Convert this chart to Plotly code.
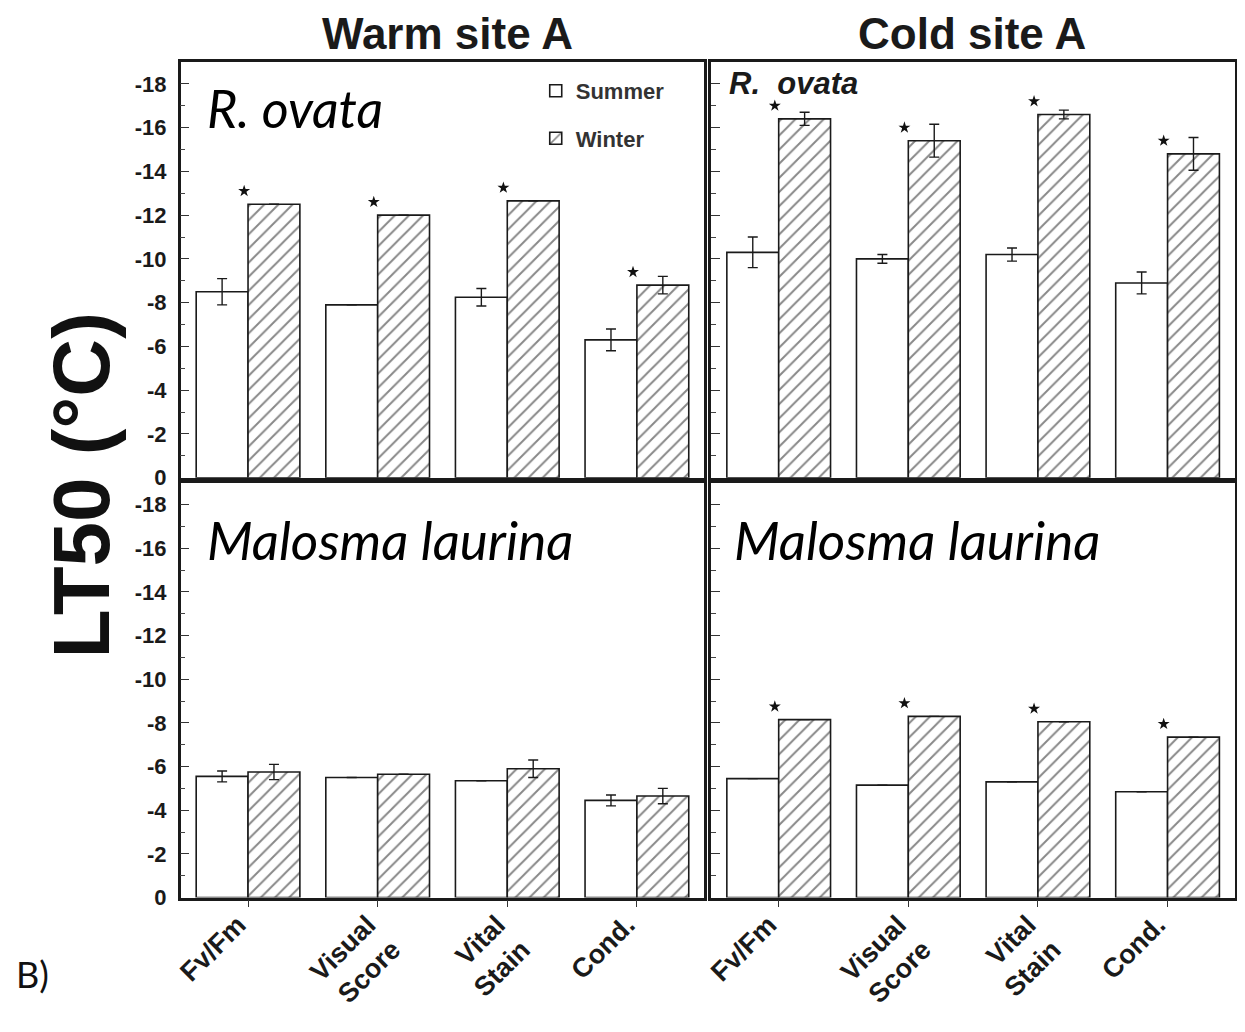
import plotly.graph_objects as go

# ---------------- data ----------------
methods = ["Fv/Fm", "Visual<br>Score", "Vital<br>Stain", "Cond."]
method_pos = [0, 1, 2, 3]
site_titles = ["Warm site A", "Cold site A"]
seasons = ["Summer", "Winter"]

y_tick_vals = [0, -2, -4, -6, -8, -10, -12, -14, -16, -18]
y_tick_text = ["0", "-2", "-4", "-6", "-8", "-10", "-12", "-14", "-16", "-18"]

# R. ovata, warm site
warm_ovata_summer = [-8.5, -7.9, -8.25, -6.3]
warm_ovata_summer_err = [0.6, 0.0, 0.4, 0.5]
warm_ovata_winter = [-12.5, -12.0, -12.65, -8.8]
warm_ovata_winter_err = [0.0, 0.0, 0.0, 0.4]
warm_ovata_sig = [True, True, True, True]

# R. ovata, cold site
cold_ovata_summer = [-10.3, -10.0, -10.2, -8.9]
cold_ovata_summer_err = [0.7, 0.2, 0.3, 0.5]
cold_ovata_winter = [-16.4, -15.4, -16.6, -14.8]
cold_ovata_winter_err = [0.3, 0.75, 0.2, 0.75]
cold_ovata_sig = [True, True, True, True]

# Malosma laurina, warm site
warm_malosma_summer = [-5.55, -5.5, -5.35, -4.45]
warm_malosma_summer_err = [0.25, 0.0, 0.0, 0.25]
warm_malosma_winter = [-5.75, -5.65, -5.9, -4.65]
warm_malosma_winter_err = [0.35, 0.0, 0.4, 0.35]
warm_malosma_sig = [False, False, False, False]

# Malosma laurina, cold site
cold_malosma_summer = [-5.45, -5.15, -5.3, -4.85]
cold_malosma_summer_err = [0.0, 0.0, 0.0, 0.0]
cold_malosma_winter = [-8.15, -8.3, -8.05, -7.35]
cold_malosma_winter_err = [0.0, 0.0, 0.0, 0.0]
cold_malosma_sig = [True, True, True, True]

panels = [
    ("", warm_ovata_summer, warm_ovata_summer_err, warm_ovata_winter, warm_ovata_winter_err, warm_ovata_sig),
    ("2", cold_ovata_summer, cold_ovata_summer_err, cold_ovata_winter, cold_ovata_winter_err, cold_ovata_sig),
    ("3", warm_malosma_summer, warm_malosma_summer_err, warm_malosma_winter, warm_malosma_winter_err, warm_malosma_sig),
    ("4", cold_malosma_summer, cold_malosma_summer_err, cold_malosma_winter, cold_malosma_winter_err, cold_malosma_sig),
]

# ---------------- style ----------------
PAGE_MARGIN = 8          # default body margin of the html page
W, H = 1245 - 2 * PAGE_MARGIN, 1032 - 2 * PAGE_MARGIN
# empirical calibration between picture pixels and page pixels
SX, LX = 0.996, 5.0
SY = 0.990
AXIS_DROP = 9            # how far the bottom axis moves with the calibration
FONT = "Liberation Sans, Arial, sans-serif"
HUMANIST = "Lato, Open Sans, sans-serif"
STAR_OFFSET = 0.6
STAR_DX = -0.03
INK = "#1a1a1a"

def page_x(p):
    return min(1.0, max(0.0, (p - PAGE_MARGIN) / W))

def page_y(p):
    return min(1.0, max(0.0, 1 - (p - PAGE_MARGIN) / H))

def px_x(r):
    return page_x(r / SX - LX)

def px_y(r):
    return page_y(r / SY)

x_dom_left = [px_x(180), px_x(705)]
x_dom_right = [px_x(712), px_x(1237)]
y_dom_top = [px_y(479), px_y(62)]
y_dom_bottom = [px_y(900), px_y(484)]

fig = go.Figure()

for idx, (sfx, s, se, w, we, sig) in enumerate(panels):
    xa = "x" + sfx
    ya = "y" + sfx
    first = idx == 0
    fig.add_trace(go.Bar(
        x=method_pos, y=s, name=seasons[0], xaxis=xa, yaxis=ya,
        marker=dict(color="white", line=dict(color=INK, width=1.6)),
        error_y=dict(type="data", array=se, visible=True, color=INK,
                     thickness=1.4, width=5),
        showlegend=first, legendgroup="summer", offsetgroup="s",
    ))
    fig.add_trace(go.Bar(
        x=method_pos, y=w, name=seasons[1], xaxis=xa, yaxis=ya,
        marker=dict(color="white", line=dict(color=INK, width=1.6),
                    pattern=dict(shape="/", fgcolor="#111", bgcolor="white",
                                 size=10, solidity=0.2)),
        error_y=dict(type="data", array=we, visible=True, color=INK,
                     thickness=1.4, width=5),
        showlegend=first, legendgroup="winter", offsetgroup="w",
    ))
    sx = [p + STAR_DX for p, g in zip(method_pos, sig) if g]
    sy = [v - STAR_OFFSET for v, g in zip(w, sig) if g]
    if sx:
        fig.add_trace(go.Scatter(
            x=sx, y=sy, mode="markers", xaxis=xa, yaxis=ya,
            marker=dict(symbol="star", size=9, color="#111"),
            showlegend=False, hoverinfo="skip",
        ))

axis_common = dict(showline=True, linecolor=INK, linewidth=2.5, mirror=True,
                   showgrid=False, zeroline=False)

def xaxis(domain, anchor, labels):
    return dict(axis_common, domain=domain, anchor=anchor, range=[-0.52, 3.52],
                tickvals=method_pos, ticktext=methods if labels else [""] * 4,
                ticks="outside" if labels else "", ticklen=7, tickwidth=1.3, tickcolor="#333",
                tickangle=-45 if labels else 0,
                ticklabelshift=-10, ticklabelstandoff=-AXIS_DROP,
                tickfont=dict(family=FONT, size=27, color=INK, weight="bold"))

def yaxis(domain, anchor, labels):
    return dict(axis_common, domain=domain, anchor=anchor, range=[0, -19],
                tickvals=y_tick_vals, ticktext=y_tick_text if labels else [""] * 10,
                ticks="inside", ticklen=9, tickwidth=1.3, tickcolor="#333",
                ticklabelstandoff=7,
                minor=dict(dtick=1, tick0=0, ticks="inside", ticklen=5, tickwidth=1, tickcolor="#444"),
                tickfont=dict(family=FONT, size=22, color=INK, weight="bold"))

fig.update_layout(
    width=W, height=H,
    margin=dict(l=0, r=0, t=0, b=0),
    paper_bgcolor="white", plot_bgcolor="white",
    barmode="group", bargap=0.2, bargroupgap=0.0,
    xaxis=xaxis(x_dom_left, "y", False),
    yaxis=yaxis(y_dom_top, "x", True),
    xaxis2=xaxis(x_dom_right, "y2", False),
    yaxis2=yaxis(y_dom_top, "x2", False),
    xaxis3=xaxis(x_dom_left, "y3", True),
    yaxis3=yaxis(y_dom_bottom, "x3", True),
    xaxis4=xaxis(x_dom_right, "y4", True),
    yaxis4=yaxis(y_dom_bottom, "x4", False),
    legend=dict(x=px_x(536), y=px_y(70), xanchor="left", yanchor="top",
                bgcolor="rgba(0,0,0,0)", tracegroupgap=16, traceorder="grouped",
                font=dict(family=FONT, size=22, color="#333", weight="bold"),
                itemwidth=30),
    showlegend=True,
)

def ann(text, x, y, font, xanchor="center", yanchor="middle", angle=0):
    return dict(text=text, x=x, y=y, xref="paper", yref="paper",
                xanchor=xanchor, yanchor=yanchor, showarrow=False,
                textangle=angle, font=font)

annotations = [
    ann(site_titles[0], px_x(448), px_y(33), dict(family=FONT, size=44, color=INK, weight="bold")),
    ann(site_titles[1], px_x(973), px_y(33), dict(family=FONT, size=44, color=INK, weight="bold")),
    ann("LT50 (°C)", page_x(76), px_y(487), dict(family=FONT, size=80, color="#111", weight="bold"),
        angle=-90),
    ann("B)", page_x(8), px_y(977), dict(family=HUMANIST, size=36, color="#111"), xanchor="left"),
    ann("R. ovata", px_x(204), px_y(108), dict(family=HUMANIST, size=52, color="#000", style="italic"), xanchor="left"),
    ann("R.  ovata", px_x(728), px_y(84), dict(family=FONT, size=31, color=INK, style="italic", weight="bold"), xanchor="left"),
    ann("Malosma laurina", px_x(204), px_y(541), dict(family=HUMANIST, size=53, color="#000", style="italic"), xanchor="left"),
    ann("Malosma laurina", px_x(733), px_y(541), dict(family=HUMANIST, size=53, color="#000", style="italic"), xanchor="left"),
]
fig.update_layout(annotations=annotations)

fig.write_html("out.html", config={"displayModeBar": False})
